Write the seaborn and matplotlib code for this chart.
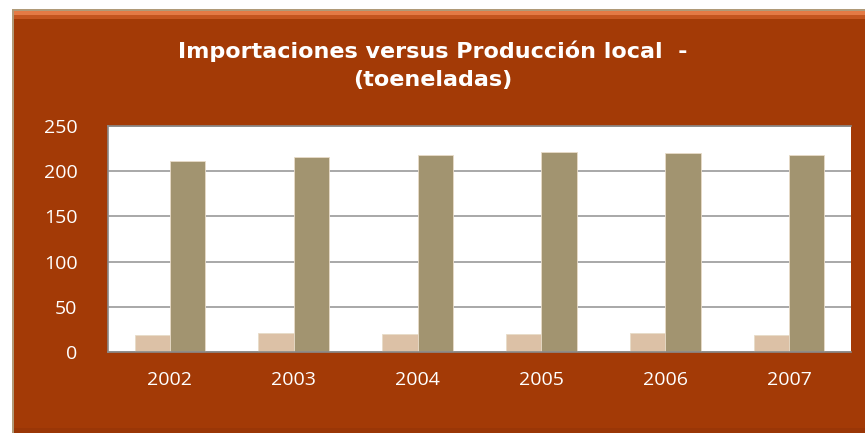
import pandas as pd
import seaborn as sns
import matplotlib.pyplot as plt
from matplotlib.patches import Rectangle

## data
years = ['2002', '2003', '2004', '2005', '2006', '2007']
importaciones = [19, 21, 20, 20, 21, 19]
produccion = [211, 216, 218, 221, 220, 218]

df = pd.DataFrame({
    'Año': years * 2,
    'Serie': ['Importaciones'] * 6 + ['Producción local'] * 6,
    'Toneladas': importaciones + produccion,
})

sns.set_theme(style='white')
plt.rcParams['font.family'] = ['Open Sans', 'DejaVu Sans']

W, H = 865, 433
bg = '#A33A06'
fig = plt.figure(figsize=(8.65, 4.33), dpi=100, facecolor='white')

# brown chart frame behind the axes, with thin tan edge and lighter top band
def frame_rect(x0, y0, x1, y1, color):
    fig.add_artist(Rectangle((x0 / W, 1 - y1 / H), (x1 - x0) / W, (y1 - y0) / H,
                             transform=fig.transFigure, facecolor=color,
                             edgecolor='none', zorder=-10))

frame_rect(12, 9, W, H, '#B09A78')
frame_rect(14, 11, W, H, bg)
frame_rect(14, 11, W, 15, '#E47A45')
frame_rect(14, 15, W, 19, '#C4551F')
frame_rect(14, 428, W, H, '#9A3606')

ax = fig.add_axes([108 / W, 1 - 352 / H, 743 / W, 226 / H])
ax.set_zorder(5)
sns.barplot(data=df, x='Año', y='Toneladas', hue='Serie',
            palette=['#DCC1A6', '#A29470'], width=0.57, saturation=1,
            edgecolor='#E8DCC8', linewidth=0.6, ax=ax, legend=False)

ax.set_facecolor('white')
ax.set_ylim(0, 250)
ax.set_yticks(range(0, 251, 50))
ax.yaxis.grid(True, color='#9A9A9A', linewidth=1.2)
ax.set_axisbelow(True)
for s in ['top', 'left', 'bottom']:
    ax.spines[s].set_color('#8A8A8A')
    ax.spines[s].set_linewidth(1.2)
ax.spines['right'].set_visible(False)
ax.set_xlabel('')
ax.set_ylabel('')
ax.tick_params(axis='both', length=0, colors='white', labelsize=14)
ax.tick_params(axis='x', pad=14)
ax.tick_params(axis='y', pad=22)

fig.text(0.5, 1 - 65 / H, 'Importaciones versus Producción local  -\n(toeneladas)',
         ha='center', va='center', color='white', fontsize=16, fontweight='bold',
         family=['Liberation Sans Narrow', 'DejaVu Sans'], linespacing=1.5)

fig.savefig('out.png', facecolor=fig.get_facecolor())
